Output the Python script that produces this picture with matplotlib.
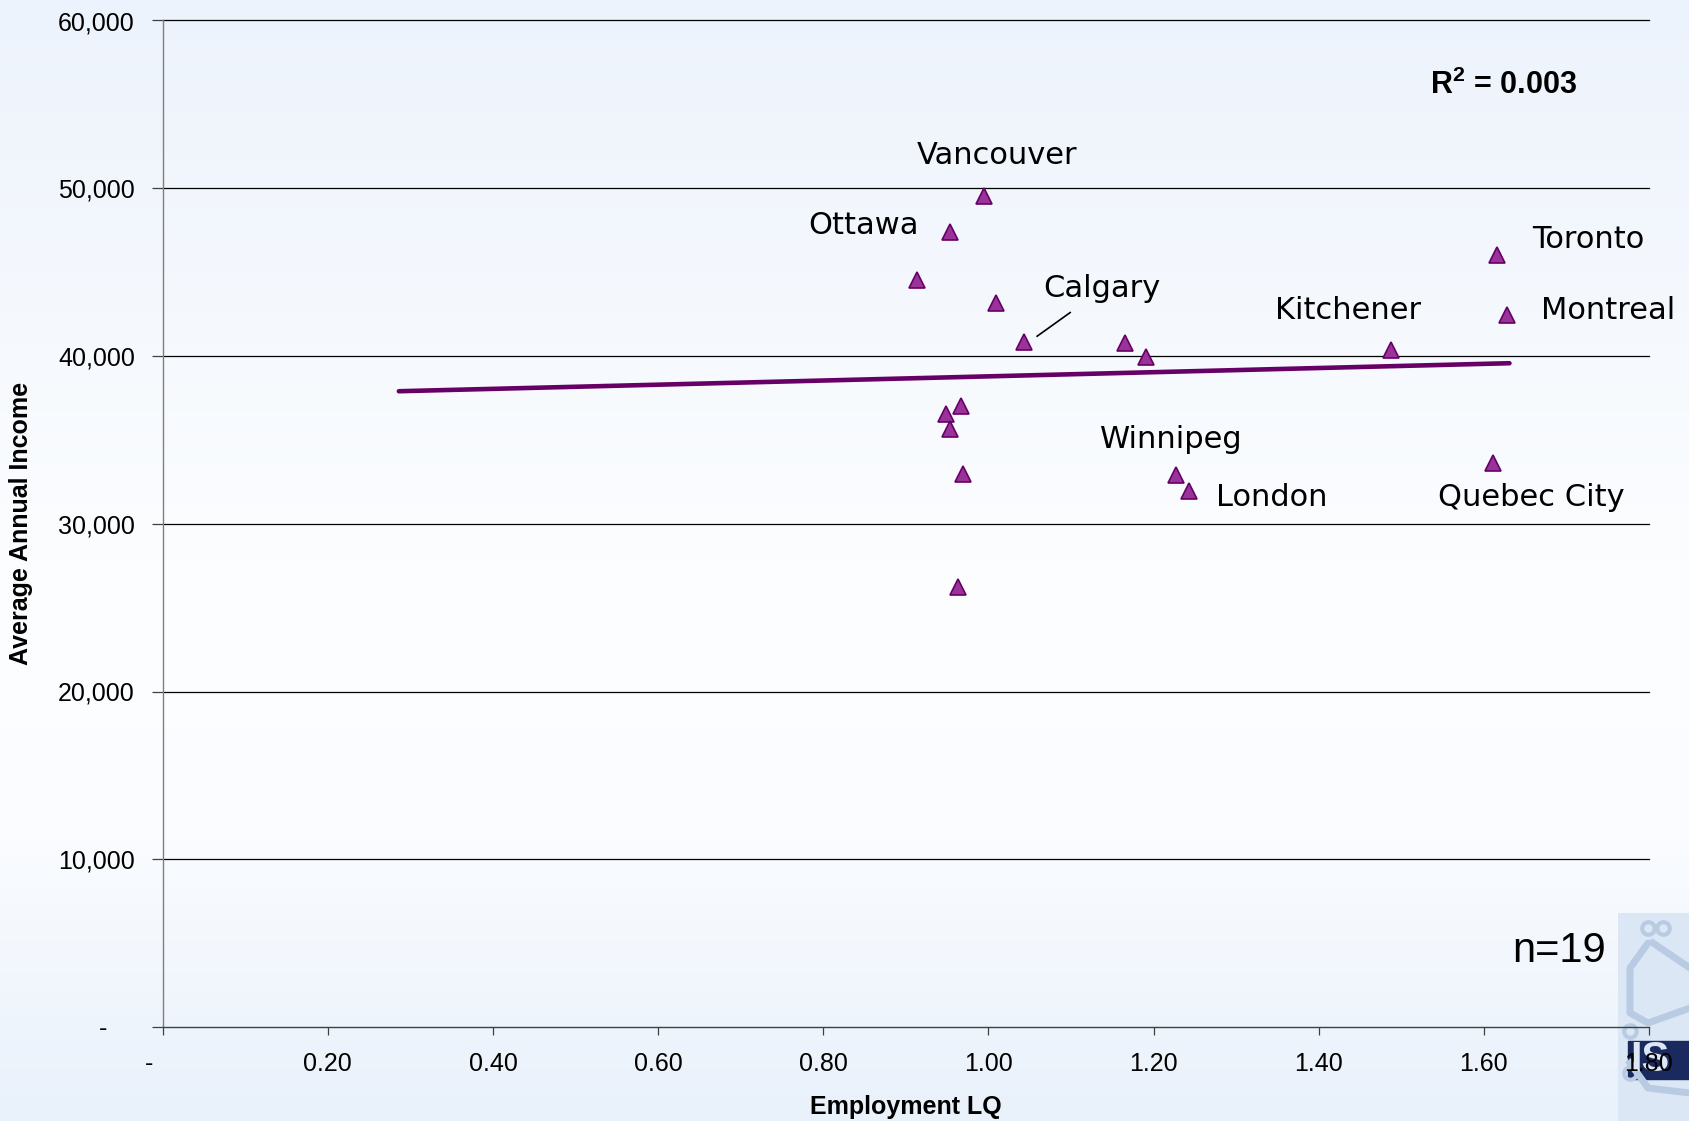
import numpy as np
import matplotlib
matplotlib.use("Agg")
import matplotlib.pyplot as plt
from matplotlib.colors import LinearSegmentedColormap
from matplotlib.ticker import FixedLocator, FuncFormatter

plt.rcParams['mathtext.fontset'] = 'custom'
plt.rcParams['mathtext.bf'] = 'Liberation Sans:bold'
plt.rcParams['mathtext.rm'] = 'Liberation Sans'

# ---- data ----
lq = [0.995, 0.953, 0.913, 1.009, 1.043, 1.166, 1.191, 1.487, 1.616, 1.628,
      0.967, 0.949, 0.953, 0.969, 1.227, 1.243, 1.611, 0.963]
income = [49530, 47410, 44520, 43170, 40860, 40790, 39960, 40340, 46000, 42460,
          37000, 36550, 35650, 32950, 32890, 31930, 33600, 26210]
trend_x = [0.286, 1.631]
trend_y = [37900, 39570]

city_names = ["Vancouver", "Ottawa", "Calgary", "Toronto", "Kitchener", "Montreal",
              "Winnipeg", "London", "Quebec City"]
city_label_x = [1.010, 0.849, 1.137, 1.726, 1.436, 1.751, 1.222, 1.343, 1.658]
city_label_y = [51970, 47790, 44000, 46960, 42720, 42720, 35010, 31540, 31540]

y_ticks = [0, 10000, 20000, 30000, 40000, 50000, 60000]
x_ticks = [0, 0.2, 0.4, 0.6, 0.8, 1.0, 1.2, 1.4, 1.6, 1.8]

W, H = 1690, 1121
fig = plt.figure(figsize=(W / 100, H / 100), dpi=100)

# background gradient
bg = fig.add_axes([0, 0, 1, 1], zorder=-10)
cmap = LinearSegmentedColormap.from_list(
    "bg", [(0.0, "#EDF3FC"), (0.55, "#FDFEFF"), (0.75, "#FAFCFF"), (1.0, "#E9F1FB")])
grad = np.linspace(0, 1, 256).reshape(-1, 1)
bg.imshow(grad, aspect="auto", cmap=cmap, extent=[0, 1, 1, 0])
bg.set_xlim(0, 1); bg.set_ylim(1, 0)
bg.axis("off")

# logo (bottom right)
logo = fig.add_axes([1618 / W, 0, 72 / W, 208 / H], zorder=-5)
logo.set_xlim(0, 72); logo.set_ylim(208, 0)
logo.axis("off")
logo.add_patch(plt.Rectangle((0, 0), 72, 208, color="#DCE7F5"))
lc = "#B9CBE3"
logo.plot([30, 12, 12, 30, 72], [30, 55, 100, 110, 95], color=lc, lw=5, solid_capstyle="round")
logo.plot([35, 72], [30, 55], color=lc, lw=5)
logo.plot([12, 30, 72], [150, 175, 180], color=lc, lw=5)
logo.plot([30, 45], [15, 15], 'o', mfc="none", mec=lc, ms=9, mew=3)
logo.plot([12, 12], [118, 160], 'o', mfc="none", mec=lc, ms=9, mew=3)
logo.add_patch(plt.Rectangle((10, 128), 62, 38, color="#1B2A5E"))
logo.text(12, 147, "IS", color="#DCE7F5", fontsize=30, fontweight="bold",
          family="Liberation Sans", va="center", ha="left")

# main axes
ax = fig.add_axes([162.7 / W, 1 - 1027 / H, (1649 - 162.7) / W, (1027 - 20.5) / H], zorder=1)
ax.patch.set_alpha(0)
ax.set_xlim(0, 1.8)
ax.set_ylim(0, 60000)

for yt in y_ticks[1:]:
    ax.axhline(yt, color="black", lw=0.9, zorder=1, clip_on=False)

ax.plot(trend_x, trend_y, color="#660066", lw=3.3, solid_capstyle="round", zorder=2)
ax.plot(lq, income, linestyle="none", marker="^", ms=12, mfc="#993399",
        mec="#660066", mew=1.2, zorder=3)

for name, tx, ty in zip(city_names, city_label_x, city_label_y):
    ax.text(tx, ty, name, fontsize=22, family="DejaVu Sans", ha="center", va="center",
            color="black", zorder=4)
# Calgary leader line
ax.plot([1.059, 1.099], [41180, 42590], color="black", lw=1.2, zorder=4)

ax.text(1.624, 56150, r"R$^{\mathbf{2}}$ = 0.003", fontsize=22, fontweight="bold",
        family="Liberation Sans", ha="center", va="center")
ax.text(1.691, 4560, "n=19", fontsize=30, family="Liberation Sans", ha="center", va="center")

for s in ["top", "right"]:
    ax.spines[s].set_visible(False)
ax.spines["left"].set_color("#7F7F7F")
ax.spines["bottom"].set_color("#404040")
ax.spines["left"].set_linewidth(1.0)
ax.spines["bottom"].set_linewidth(1.0)

ax.yaxis.set_major_locator(FixedLocator(y_ticks))
ax.xaxis.set_major_locator(FixedLocator(x_ticks))
ax.yaxis.set_major_formatter(FuncFormatter(lambda v, p: "-    " if v == 0 else f"{int(v):,}"))
ax.xaxis.set_major_formatter(FuncFormatter(lambda v, p: "-    " if v == 0 else f"{v:.2f}"))
ax.tick_params(axis="y", length=8, width=0.9, color="#404040", pad=12, labelsize=18)
ax.tick_params(axis="x", length=6, width=0.9, color="#404040", pad=12, labelsize=18)
for lab in ax.get_xticklabels() + ax.get_yticklabels():
    lab.set_family("Liberation Sans")

ax.set_xlabel("Employment LQ", fontsize=18, fontweight="bold", family="Liberation Sans",
              labelpad=14)
ax.set_ylabel("Average Annual Income", fontsize=18, fontweight="bold",
              family="Liberation Sans", labelpad=18)

fig.savefig("out.png", dpi=100)
